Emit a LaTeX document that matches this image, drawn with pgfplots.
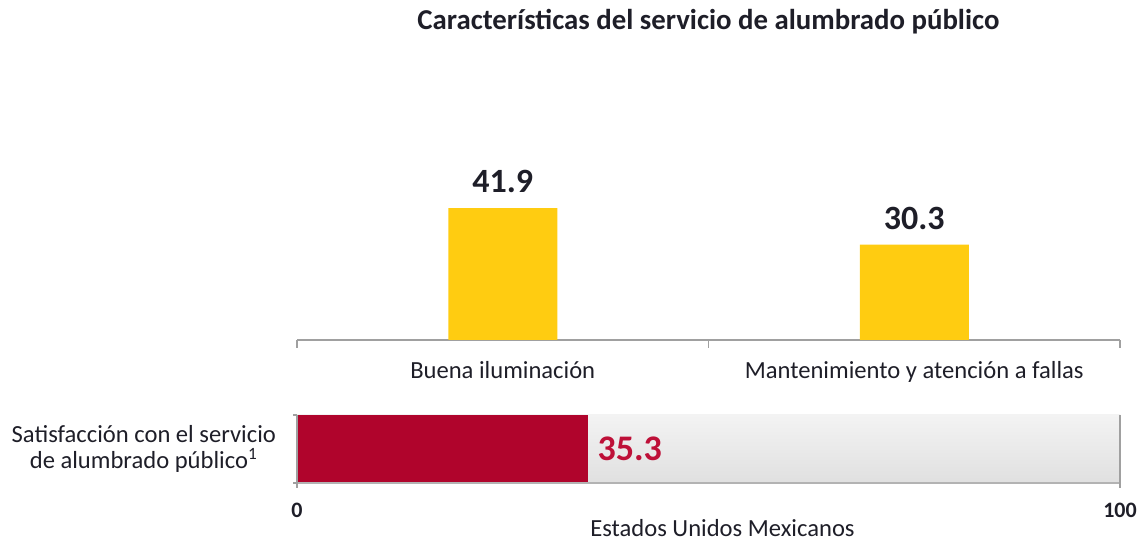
\documentclass[border=0pt]{standalone}
\usepackage{fontspec}
\setmainfont{Carlito}
\usepackage{pgfplots}
\pgfplotsset{compat=1.18}
\definecolor{barY}{RGB}{255,204,17}
\definecolor{barR}{RGB}{176,4,44}
\definecolor{txtR}{RGB}{190,16,56}
\definecolor{axG}{RGB}{160,160,160}
\definecolor{txt}{RGB}{30,30,40}
\definecolor{bgTop}{RGB}{243,243,243}
\definecolor{bgBot}{RGB}{224,224,224}
\begin{document}
\begin{tikzpicture}
\begin{axis}[
  at={(0,0)}, anchor=south west,
  scale only axis, width=411.5pt, height=120pt,
  ybar, bar width=54.5pt,
  xmin=-0.5, xmax=1.5, ymin=0, ymax=76.2,
  axis x line*=bottom, axis y line=none,
  axis line style={axG, line width=0.8pt, -},
  xtick={0,1},
  xticklabels={Buena iluminación, Mantenimiento y atención a fallas},
  major tick length=0pt,
  extra x ticks={-0.5,0.5,1.5}, extra x tick labels={},
  extra x tick style={major tick length=4pt, xtick align=outside, tick style={axG, line width=0.8pt}},
  xticklabel style={font=\fontsize{12.3}{14}\selectfont, text=txt, yshift=-7pt},
  /pgf/number format/assume math mode=true,
  nodes near coords={\pgfmathprintnumber[fixed,precision=1,fixed zerofill]{\pgfplotspointmeta}},
  nodes near coords style={font=\bfseries\fontsize{17}{19}\selectfont, text=txt, yshift=4pt},
  clip=false,
]
\addplot[fill=barY, draw=none] coordinates {(0,41.9) (1,30.3)};
\node[font=\bfseries\fontsize{14.4}{16}\selectfont, text=txt] at (rel axis cs:0.5,1) [yshift=39pt] {Características del servicio de alumbrado público};
\end{axis}
\begin{axis}[
  at={(0,-71.5pt)}, anchor=south west,
  scale only axis, width=411.5pt, height=34pt,
  xmin=0, xmax=100, ymin=-0.5, ymax=0.5,
  axis x line*=bottom, axis y line=none,
  x axis line style={draw=none},
  xtick={0,100}, major tick length=0pt,
  /pgf/number format/assume math mode=true,
  xticklabel style={font=\bfseries\fontsize{11}{13}\selectfont, text=txt, yshift=-6.5pt},
  xlabel={Estados Unidos Mexicanos},
  xlabel style={at={(axis description cs:0.5,0)}, anchor=center, yshift=-22.5pt, xshift=7pt, font=\fontsize{12.3}{14}\selectfont, text=txt},
  clip=false,
]
\addplot[xbar, bar width=34pt, bar shift=0pt, draw=none, top color=bgTop, bottom color=bgBot] coordinates {(100,0)};
\addplot[xbar, bar width=34pt, bar shift=0pt, fill=barR, draw=none,
  nodes near coords={\pgfmathprintnumber[fixed,precision=1]{\pgfplotspointmeta}},
  nodes near coords style={font=\bfseries\fontsize{18}{20}\selectfont, text=txtR, anchor=west, xshift=1.5pt}] coordinates {(35.3,0)};
\draw[axG!80, line width=0.7pt] (axis cs:0,-0.5) -- (axis cs:100,-0.5);
\draw[axG, line width=0.8pt] (axis cs:0,0.5) -- ([yshift=-2.5pt]axis cs:0,-0.5);
\draw[axG, line width=0.8pt] (axis cs:0,0.5) -- ([xshift=-2pt]axis cs:0,0.5);
\draw[axG, line width=0.8pt] (axis cs:0,-0.5) -- ([xshift=-2pt]axis cs:0,-0.5);
\draw[axG, line width=0.8pt] (axis cs:100,0.5) -- ([yshift=-2.5pt]axis cs:100,-0.5);
\node[anchor=east, align=center, font=\fontsize{12.3}{13}\selectfont, text=txt] at (rel axis cs:0,0.5) [xshift=-7pt] {Satisfacción con el servicio\\de alumbrado público\textsuperscript{1}};
\end{axis}
\path (-148.5pt,-101pt) rectangle (424pt,170pt);
\end{tikzpicture}
\end{document}
